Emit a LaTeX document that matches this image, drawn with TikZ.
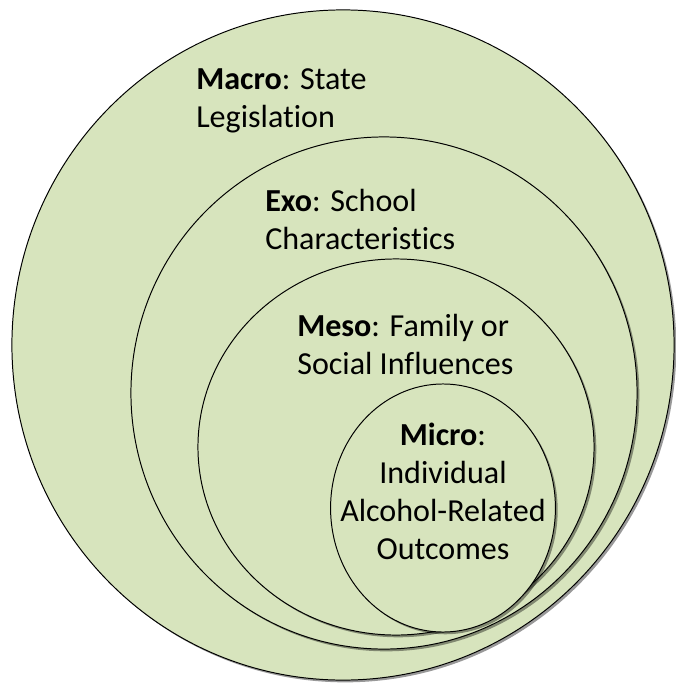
\documentclass[tikz,border=0pt]{standalone}
\usepackage{fontspec}
\setmainfont{Carlito}[Ligatures={NoCommon}]
\usetikzlibrary{shapes.geometric,shadows}
\definecolor{sphere}{HTML}{D7E4BD}
\tikzset{
  level/.style={ellipse, draw=black, line width=0.7pt, fill=sphere, inner sep=0pt,
    drop shadow={shadow xshift=1.6pt, shadow yshift=-1.6pt, opacity=0.4, fill=black}},
  leveltext/.style={anchor=base west, inner sep=0pt, align=left,
    font=\fontsize{22.8}{27}\selectfont}
}
\begin{document}
\begin{tikzpicture}[x=0.025cm,y=-0.025cm]
\useasboundingbox (0,0) rectangle (676,690);
% nested spheres
\node[level, minimum width=16.55cm, minimum height=16.75cm] (macro) at (343,345) {};
\node[level, minimum width=12.65cm, minimum height=12.8cm] (exo) at (384,393) {};
\node[level, minimum width=9.9cm, minimum height=9.4cm] (meso) at (396,447) {};
\node[level, minimum width=5.62cm, minimum height=6.2cm] (micro) at (443,508) {};
% labels (anchored at the last line)
\node[leveltext] (macrotext) at (196,127) {\textbf{Macro}: State\\Legislation};
\node[leveltext] (exotext) at (265,249) {\textbf{Exo}: School\\Characteristics};
\node[leveltext] (mesotext) at (297,374) {\textbf{Meso}: Family or\\Social Influences};
\node[leveltext, anchor=base, align=center] (microtext) at (443,559)
  {\textbf{Micro}:\\Individual\\Alcohol-Related\\Outcomes};
\end{tikzpicture}
\end{document}
